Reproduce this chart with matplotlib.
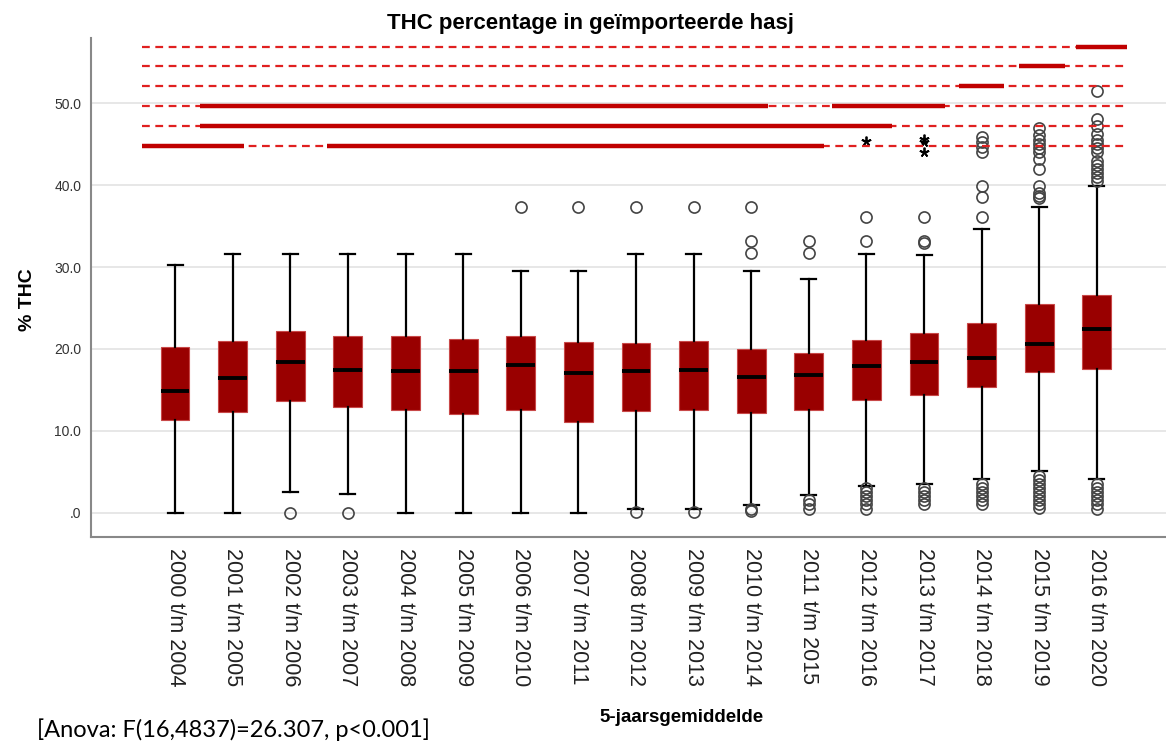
import numpy as np
import matplotlib
matplotlib.use("Agg")
import matplotlib.pyplot as plt

plt.rcParams['font.family'] = ['Liberation Sans', 'DejaVu Sans']

# 5-year periods
labels = ['%d t/m %d' % (y, y + 4) for y in range(2000, 2017)]

# box statistics (% THC)
whis_lo = [0.0, 0.0, 2.5, 2.3, 0.0, 0.0, 0.0, 0.0, 0.5, 0.5, 0.9, 2.2, 3.3, 3.5, 4.1, 5.1, 4.1]
q1      = [11.3, 12.3, 13.6, 12.9, 12.5, 12.1, 12.5, 11.1, 12.4, 12.6, 12.2, 12.5, 13.8, 14.4, 15.3, 17.2, 17.5]
median  = [14.8, 16.5, 18.4, 17.4, 17.3, 17.3, 18.0, 17.0, 17.3, 17.4, 16.6, 16.8, 17.9, 18.4, 18.9, 20.6, 22.4]
q3      = [20.2, 21.0, 22.2, 21.6, 21.6, 21.2, 21.6, 20.9, 20.7, 21.0, 20.0, 19.5, 21.1, 21.9, 23.2, 25.5, 26.6]
whis_hi = [30.2, 31.6, 31.6, 31.6, 31.6, 31.6, 29.5, 29.5, 31.6, 31.6, 29.5, 28.6, 31.6, 31.5, 34.6, 37.3, 39.9]

outliers = [
    [], [], [0.0], [0.0], [], [], [37.3], [37.3],
    [37.3, 0.1], [37.3, 0.1],
    [37.3, 33.2, 31.7, 0.5, 0.2],
    [33.2, 31.7, 1.5, 1.0, 0.5],
    [36.1, 33.2, 3.0, 2.5, 2.0, 1.5, 1.0, 0.5],
    [36.1, 33.2, 33.0, 3.0, 2.5, 2.0, 1.5, 1.0],
    [36.1, 38.5, 39.9, 44.1, 44.7, 45.3, 45.9, 3.5, 3.0, 2.5, 2.0, 1.5, 1.0],
    [38.4, 38.7, 39.0, 39.9, 42.0, 43.2, 44.0, 44.5, 45.0, 45.5, 46.1, 47.0,
     4.5, 4.0, 3.5, 3.0, 2.5, 2.0, 1.5, 1.0, 0.6],
    [40.5, 41.0, 41.5, 42.0, 42.5, 43.0, 44.0, 44.5, 45.0, 45.5, 46.2, 47.2, 48.1, 51.5,
     3.5, 3.0, 2.5, 2.0, 1.5, 1.0, 0.5],
]
# extreme values (stars)
extremes = {12: [45.4], 13: [45.7, 45.3, 44.0]}

# homogeneous subsets (post-hoc) drawn on top
subset_levels = [44.8, 47.2, 49.7, 52.1, 54.6, 56.9]
subset_segments = [
    (0, -0.57, 1.19), (0, 2.64, 11.26),
    (1, 0.43, 12.44),
    (2, 0.43, 10.29), (2, 11.41, 13.37),
    (3, 13.6, 14.38),
    (4, 14.64, 15.44),
    (5, 15.64, 16.52),
]

fig = plt.figure(figsize=(11.66, 7.42), dpi=100)
ax = fig.add_axes([0.078, 0.276, 0.922, 0.673])

stats = []
for i in range(len(labels)):
    stats.append(dict(med=median[i], q1=q1[i], q3=q3[i], whislo=whis_lo[i],
                      whishi=whis_hi[i], fliers=outliers[i], label=labels[i]))

ax.bxp(stats, positions=range(len(labels)), widths=0.5, capwidths=0.26,
       patch_artist=True, showfliers=True,
       boxprops=dict(facecolor='#990000', edgecolor='#c84848', linewidth=0.8),
       medianprops=dict(color='black', linewidth=2.8),
       whiskerprops=dict(color='black', linewidth=1.6),
       capprops=dict(color='black', linewidth=1.6),
       flierprops=dict(marker='o', markerfacecolor='none', markeredgecolor='#444444',
                       markersize=8, markeredgewidth=1.2))

for i, vals in extremes.items():
    ax.plot([i] * len(vals), vals, ls='none', marker=(5, 2), color='black',
            markersize=7, markeredgewidth=1.3)

x0, x1 = -0.57, 16.54
for lvl in subset_levels:
    ax.plot([x0, x1], [lvl, lvl], color='#e02020', lw=1.6, ls=(0, (3.5, 2.5)), zorder=3)
for k, a, b in subset_segments:
    ax.plot([a, b], [subset_levels[k], subset_levels[k]], color='#c00000', lw=3.2,
            solid_capstyle='butt', zorder=4)

ax.set_xlim(-1.46, 17.2)
ax.set_ylim(-3.0, 58.0)
ax.set_yticks([0, 10, 20, 30, 40, 50])
ax.set_yticklabels(['.0', '10.0', '20.0', '30.0', '40.0', '50.0'], fontsize=10, color='#333333')
ax.set_xticks(range(len(labels)))
ax.set_xticklabels(labels, rotation=270, fontsize=15.5, color='#222222')
ax.tick_params(length=0)
ax.tick_params(axis='x', pad=8)
ax.tick_params(axis='y', pad=7)
ax.yaxis.grid(True, color='#e3e3e3', lw=1.2)
ax.set_axisbelow(True)
for s in ['top', 'right']:
    ax.spines[s].set_visible(False)
for s in ['left', 'bottom']:
    ax.spines[s].set_color('#888888')
    ax.spines[s].set_linewidth(1.5)

ax.set_ylabel('% THC', fontsize=14, fontweight='bold')
ax.yaxis.set_label_coords(-0.051, 0.475)
fig.text(590 / 1166, 1 - 23 / 742, 'THC percentage in geïmporteerde hasj',
         ha='center', va='center', fontsize=16, fontweight='bold')
fig.text(682 / 1166, 1 - 718 / 742, '5-jaarsgemiddelde', ha='center', va='center',
         fontsize=13.5, fontweight='bold')
fig.text(37 / 1166, 1 - 730 / 742, '[Anova: F(16,4837)=26.307, p<0.001]',
         ha='left', va='center', fontsize=17, family=['Lato', 'DejaVu Sans'])

fig.savefig('out.png', dpi=100)
